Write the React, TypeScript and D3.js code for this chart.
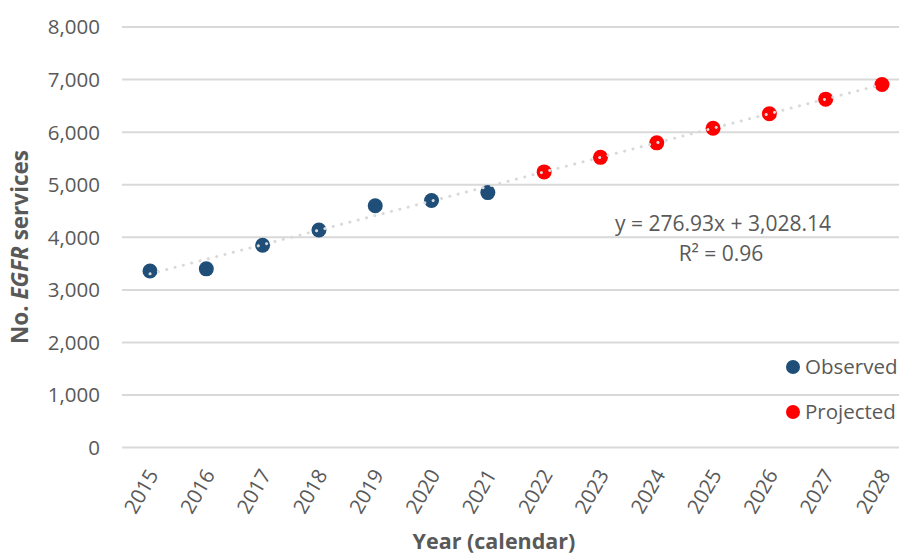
import React from "react";
import * as d3 from "d3";

const years = [2015, 2016, 2017, 2018, 2019, 2020, 2021, 2022, 2023, 2024, 2025, 2026, 2027, 2028];
const observedYears = [2015, 2016, 2017, 2018, 2019, 2020, 2021];
const observedValues = [3360, 3400, 3850, 4140, 4600, 4700, 4850];
const projectedYears = [2022, 2023, 2024, 2025, 2026, 2027, 2028];
const projectedValues = [5244, 5521, 5797, 6074, 6351, 6628, 6905];
const yTicks = [0, 1000, 2000, 3000, 4000, 5000, 6000, 7000, 8000];
const trendSlope = 276.93;
const trendIntercept = 3028.14;
const equationLabel = "y = 276.93x + 3,028.14";
const r2Label = "R² = 0.96";
const legendLabels = ["Observed", "Projected"];

const W = 899;
const H = 557;
const FONT = "'Open Sans', 'Noto Sans', sans-serif";
const TEXT = "#595959";
const GRID = "#d9d9d9";
const BLUE = "#1F4E79";
const RED = "#FF0000";

export default function App() {
  const plotLeft = 122;
  const plotRight = 910;
  const x = d3.scalePoint<number>().domain(years).range([150, 882]);
  const y = d3.scaleLinear().domain([0, 8000]).range([447.6, 27]);
  const fmt = d3.format(",");

  const trendPts: [number, number][] = years.map((yr, i) => [x(yr)!, y(trendSlope * (i + 1) + trendIntercept)]);
  const line = d3.line();

  return (
    <svg width={W} height={H} style={{ position: "absolute", left: 0, top: 0, background: "#fff" }}>
      <rect width={W} height={H} fill="#fff" />
      {yTicks.map((t) => (
        <g key={t}>
          <line x1={plotLeft} x2={plotRight} y1={y(t)} y2={y(t)} stroke={GRID} strokeWidth={2} />
          <text x={100} y={y(t)} dy="0.36em" textAnchor="end" fontFamily={FONT} fontSize={20.5} fill={TEXT}>
            {fmt(t)}
          </text>
        </g>
      ))}
      {years.map((yr) => (
        <text
          key={yr}
          transform={`translate(${x(yr)! + 3},${471}) rotate(-60)`}
          textAnchor="end"
          dy="0.35em"
          fontFamily={FONT}
          fontSize={20.5}
          fill={TEXT}
        >
          {yr}
        </text>
      ))}
      {observedYears.map((yr, i) => (
        <circle key={yr} cx={x(yr)} cy={y(observedValues[i])} r={7.5} fill={BLUE} />
      ))}
      {projectedYears.map((yr, i) => (
        <circle key={yr} cx={x(yr)} cy={y(projectedValues[i])} r={7.5} fill={RED} />
      ))}
      <path
        d={line(trendPts) || ""}
        fill="none"
        stroke={GRID}
        strokeWidth={3}
        strokeDasharray="0.1 8.5"
        strokeLinecap="round"
      />
      <text x={723} y={223} dy="0.36em" textAnchor="middle" fontFamily={FONT} fontSize={21} fill={TEXT}>
        {equationLabel}
      </text>
      <text x={721} y={253} dy="0.36em" textAnchor="middle" fontFamily={FONT} fontSize={21} fill={TEXT}>
        {r2Label}
      </text>
      {legendLabels.map((lbl, i) => (
        <g key={lbl}>
          <circle cx={793} cy={367 + i * 45} r={7} fill={i === 0 ? BLUE : RED} />
          <text x={805} y={367 + i * 45} dy="0.36em" fontFamily={FONT} fontSize={20.5} fill={TEXT}>
            {lbl}
          </text>
        </g>
      ))}
      <text
        transform={`translate(28,${247}) rotate(-90)`}
        textAnchor="middle"
        fontFamily={FONT}
        fontSize={22.5}
        fontWeight="bold"
        fill={TEXT}
      >
        <tspan>No. </tspan>
        <tspan fontStyle="italic">EGFR</tspan>
        <tspan> services</tspan>
      </text>
      <text x={494} y={549} textAnchor="middle" fontFamily={FONT} fontSize={21.5} fontWeight="bold" fill={TEXT}>
        Year (calendar)
      </text>
    </svg>
  );
}
